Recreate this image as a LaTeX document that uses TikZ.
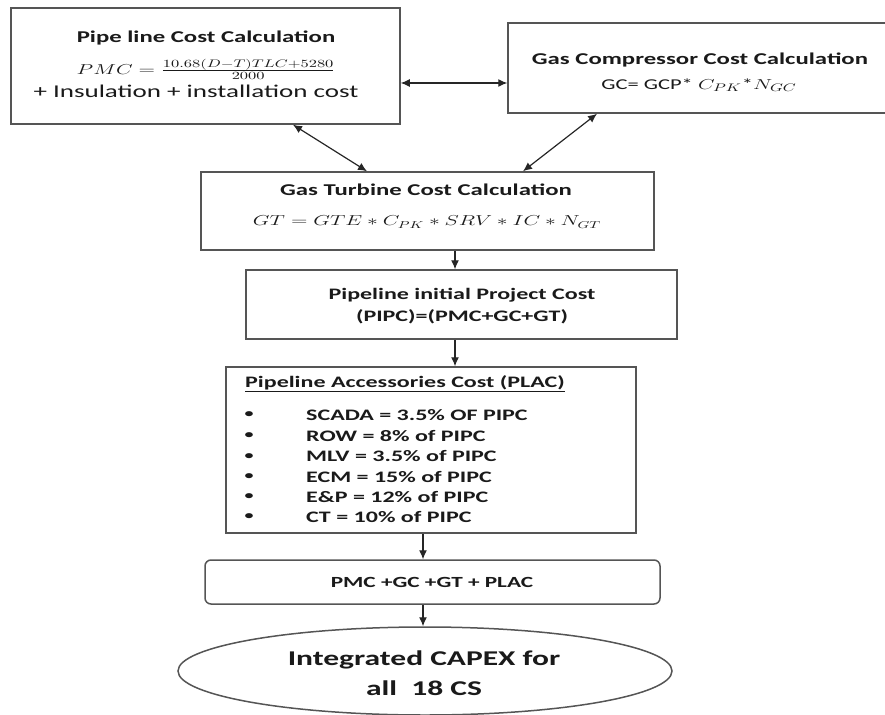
\documentclass[tikz,border=0pt]{standalone}
\usepackage{fontspec}
\setmainfont{Carlito}[FakeStretch=1.5]
\usepackage{graphicx}
\usetikzlibrary{arrows.meta,shapes.geometric}
\newcommand{\mathx}[1]{\scalebox{1.5}[1]{$#1$}}
\newcommand{\fs}[1]{\fontsize{#1}{#1}\selectfont}
\definecolor{linec}{HTML}{555555}
\definecolor{txtc}{HTML}{1A1A1A}
\begin{document}
\begin{tikzpicture}[x=1pt,y=-1pt,
  box/.style={draw=linec, line width=1.5pt, fill=white, inner sep=0pt},
  lbl/.style={inner sep=0pt, text=txtc},
  conn/.style={draw=black!85, line width=1.2pt, -{Latex[length=9pt,width=8pt]}},
  both/.style={draw=black!85, line width=1.2pt, {Latex[length=9pt,width=8pt]}-{Latex[length=9pt,width=8pt]}}]
\useasboundingbox (0,0) rectangle (885,714);
% boxes
\node[box, minimum width=389, minimum height=116] (b1) at (205.5,66) {};
\node[box, minimum width=379, minimum height=90] (b2) at (697.5,68) {};
\node[box, minimum width=453, minimum height=78] (b3) at (427.5,211) {};
\node[box, minimum width=431, minimum height=69] (b4) at (461.5,304.5) {};
\node[box, minimum width=410, minimum height=166] (b5) at (431,450) {};
\node[box, rounded corners=6pt, minimum width=455, minimum height=44] (b6) at (432.5,582) {};
\node[box, ellipse, minimum width=494, minimum height=88] (b7) at (425,671) {};
% texts box 1
\node[lbl, font=\bfseries\fs{16.5}] (t1a) at (206,38) {Pipe line Cost Calculation};
\node[lbl, font=\fs{15.5}] (t1b) at (206,69) {\mathx{PMC=\frac{10.68(D-T)TLC+5280}{2000}}};
\node[lbl, font=\fs{18}] (t1c) at (196,91) {+ Insulation + installation cost};
% box 2
\node[lbl, font=\bfseries\fs{16.5}] (t2a) at (700,60) {Gas Compressor Cost Calculation};
\node[lbl, font=\fs{15}] (t2b) at (699,85) {GC= GCP* \mathx{C_{PK}}*\mathx{N_{GC}}};
% box 3
\node[lbl, font=\bfseries\fs{16.5}] (t3a) at (426,190) {Gas Turbine Cost Calculation};
\node[lbl, font=\fs{14.8}] (t3b) at (427,222) {\mathx{GT=GTE*C_{PK}*SRV*IC*N_{GT}}};
% box 4
\node[lbl, font=\bfseries\fs{16}] (t4a) at (462,295) {Pipeline initial Project Cost};
\node[lbl, font=\bfseries\fs{16}] (t4b) at (462,317) {(PIPC)=(PMC+GC+GT)};
% box 5
\node[lbl, anchor=west, font=\bfseries\fs{16}] (t5) at (245,384) {\underline{Pipeline Accessories Cost (PLAC)}};
\foreach \i/\yy/\tx in {1/415/{SCADA = 3.5\% OF PIPC}, 2/436/{ROW = 8\% of PIPC}, 3/456.5/{MLV = 3.5\% of PIPC}, 4/477/{ECM = 15\% of PIPC}, 5/497/{E\&P = 12\% of PIPC}, 6/517/{CT = 10\% of PIPC}}{
  \node[lbl, font=\bfseries\fs{12}] (bu\i) at (249,\yy) {•};
  \node[lbl, anchor=west, font=\bfseries\fs{16}] (li\i) at (306,\yy) {\tx};
}
% box 6
\node[lbl, font=\bfseries\fs{15.5}] (t6) at (432,582) {PMC +GC +GT + PLAC};
% ellipse
\node[lbl, align=center, font=\bfseries\fs{21}] (t7a) at (424,660) {Integrated CAPEX for};
\node[lbl, align=center, font=\bfseries\fs{21}] (t7b) at (424,688) {all\ \ 18 CS};
% connectors
\draw[both] (b1.east |- 0,83) -- (b2.west |- 0,83);
\draw[both] (b1.south -| 293,0) -- (b3.north -| 367,0);
\draw[both] (b2.south -| 597,0) -- (b3.north -| 523,0);
\draw[conn] (b3.south -| 455,0) -- (b4.north -| 455,0);
\draw[conn] (b4.south -| 455,0) -- (b5.north -| 455,0);
\draw[conn] (b5.south -| 423,0) -- (b6.north -| 423,0);
\draw[conn] (b6.south -| 423,0) -- (b7.north -| 423,0);
\end{tikzpicture}
\end{document}
